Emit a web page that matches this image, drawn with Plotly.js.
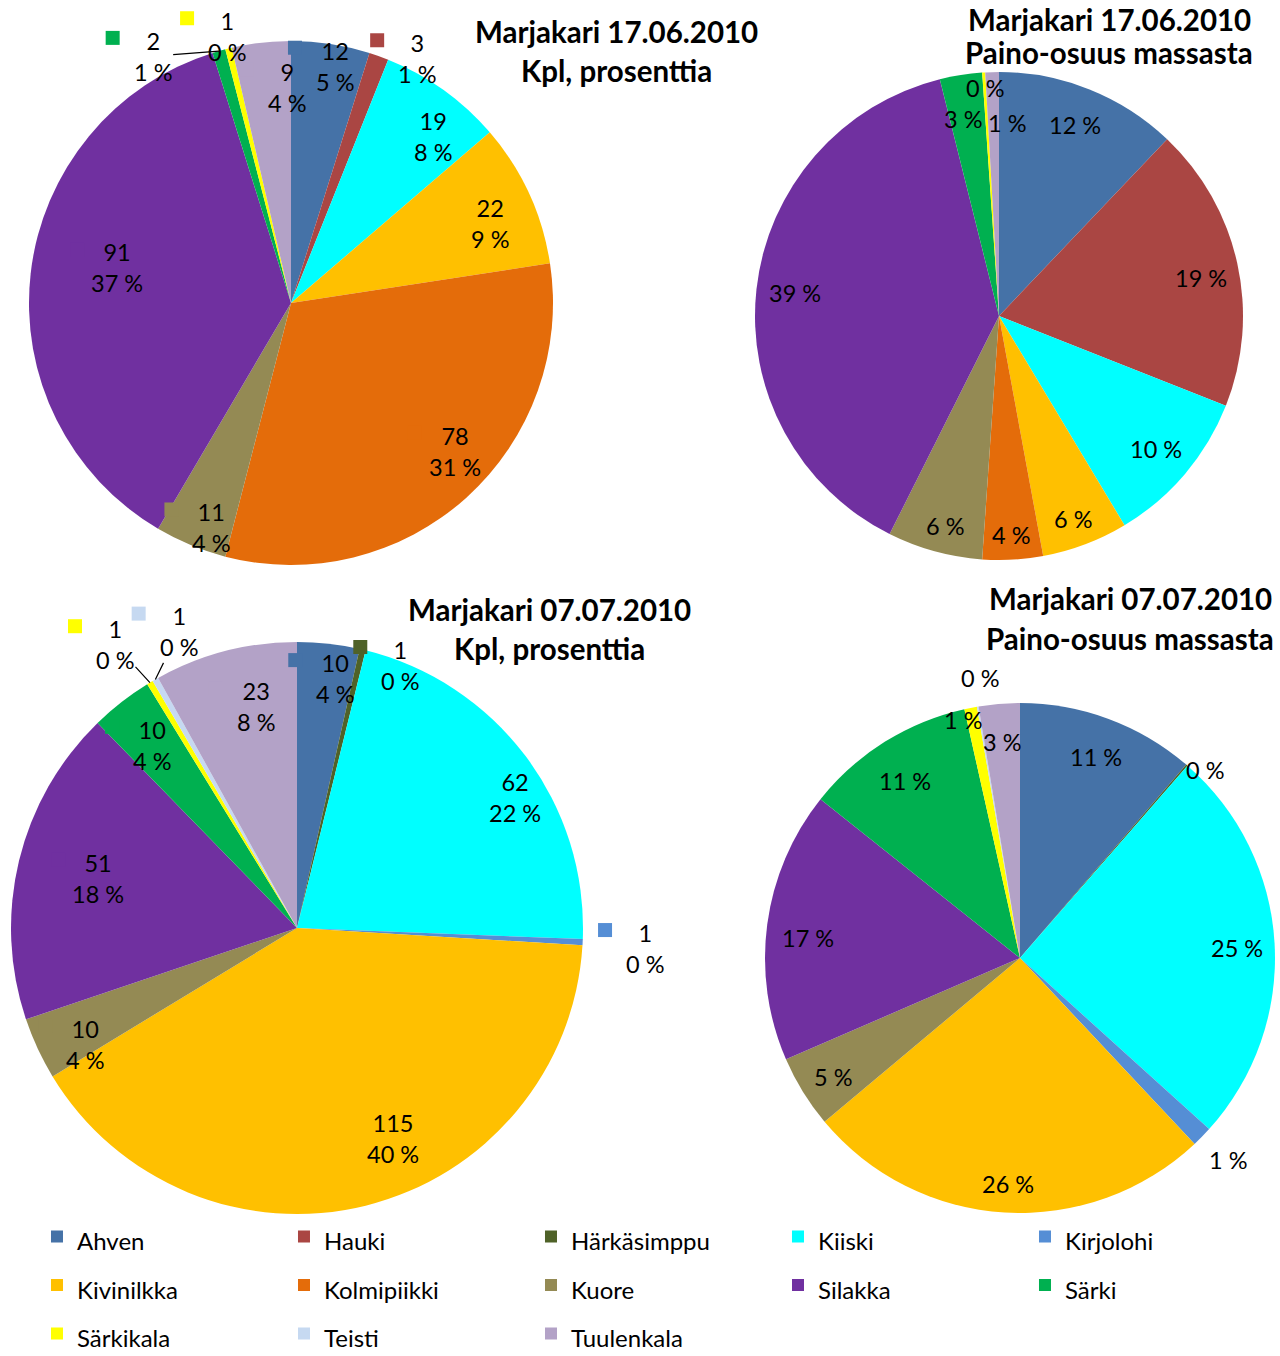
<!DOCTYPE html>
<html>
<head>
<meta charset="utf-8">
<script src="https://cdn.plot.ly/plotly-3.0.1.min.js"></script>
<style>
  html, body { margin: 0; padding: 0; background: #ffffff; }
  #chart { width: 1280px; height: 1356px; }
</style>
</head>
<body>
<div id="chart"></div>
<script>
// Species in legend order and their slice colours
const species = ['Ahven', 'Hauki', 'Härkäsimppu', 'Kiiski', 'Kirjolohi', 'Kivinilkka',
  'Kolmipiikki', 'Kuore', 'Silakka', 'Särki', 'Särkikala', 'Teisti', 'Tuulenkala'];
const speciesColors = ['#4572A7', '#AA4643', '#4F6228', '#00FFFF', '#558ED5', '#FFC000',
  '#E46C0A', '#948A54', '#7030A0', '#00B050', '#FFFF00', '#C6D9F1', '#B3A2C7'];

// Catch in individuals (kpl)
const countsJune = [12, 3, 0, 19, 0, 22, 78, 11, 91, 2, 1, 0, 9];
const countsJuly = [10, 0, 1, 62, 1, 115, 0, 10, 51, 10, 1, 1, 23];

// Share of the total catch mass (%)
const massJune = [12.1, 18.9, 0, 10.4, 0, 5.7, 4.0, 6.3, 38.7, 2.8, 0.2, 0, 0.9];
const massJuly = [11.3, 0, 0.1, 25.3, 1.3, 25.9, 0, 4.6, 17.2, 10.8, 0.8, 0.1, 2.6];

// Chart headings
const headingDates = ['Marjakari 17.06.2010', 'Marjakari 17.06.2010', 'Marjakari 07.07.2010', 'Marjakari 07.07.2010'];
const headingKinds = ['Kpl, prosenttia', 'Paino-osuus massasta', 'Kpl, prosenttia', 'Paino-osuus massasta'];

// ---------------------------------------------------------------------------
// Layout and styling
const W = 1280, H = 1356;
const FONT = 'Lato, "Open Sans", sans-serif';
const LABEL_SIZE = 23.5;
const LINE_GAP = LABEL_SIZE * 1.3;

// Pie frames in pixels (centre and radius); heading x and the y of its two lines
const frames = [
  { cx: 291, cy: 303, r: 262, head: [616, 31, 70] },
  { cx: 999, cy: 316, r: 244, head: [1109, 20, 53] },
  { cx: 297, cy: 928, r: 286, head: [549, 609, 648] },
  { cx: 1020, cy: 958, r: 255, head: [1130, 599, 638] }
];

// Data-label placement: radius fraction and angle shift (deg) from the slice middle
const labelSpots = [
  { _default: [0.82, 0], Ahven: [0.92, 1.8], Hauki: [1.05, 7.7], Kiiski: [0.834, 4.9],
    Kivinilkka: [0.817, 3], Kolmipiikki: [0.843, -5.8], Kuore: [0.91, -3], Silakka: [0.677, 4.9],
    'Särki': [1.08, -13.3], 'Särkikala': [1.046, 0.3], Tuulenkala: [0.823, 5.4] },
  { _default: [0.843, 0], Hauki: [0.842, 1.7], Kivinilkka: [0.885, 0.7], Kolmipiikki: [0.9, 0.2],
    Kuore: [0.889, -0.9], 'Särki': [0.82, -1.5], 'Särkikala': [0.935, 0.2], Tuulenkala: [0.79, 4] },
  { _default: [0.82, 0], Ahven: [0.883, 2.4], 'Härkäsimppu': [0.987, 8.2], Kiiski: [0.889, 6],
    Kirjolohi: [1.219, 0.5], Kivinilkka: [0.81, -10.6], Kuore: [0.845, -3.8], Silakka: [0.717, 0.5],
    'Särki': [0.816, -0.5], 'Särkikala': [1.178, -1.75], Teisti: [1.115, 7.9], Tuulenkala: [0.786, 4] },
  { _default: [0.845, 0], Ahven: [0.843, 0.4], 'Härkäsimppu': [1.034, 3.6], Kiiski: [0.852, 0.8],
    Kirjolohi: [1.137, -0.3], Kivinilkka: [0.887, -0.4], Kuore: [0.869, -0.8], Silakka: [0.835, -2.2],
    'Särki': [0.828, -1], 'Särkikala': [0.96, -2.3], Teisti: [1.109, 1.4], Tuulenkala: [0.85, -0.1] }
];
// Labels joined to their slice with a leader line
const leaderLabels = [['Särki'], [], ['Särkikala', 'Teisti'], []];

// Legend entries keep the species name; the smaller span keeps the row pitch roomy
const legendNames = species.map(s => '<span style="font-size:24px">' + s + '</span>');

const charts = [
  { values: countsJune, isCount: true },
  { values: massJune, isCount: false },
  { values: countsJuly, isCount: true },
  { values: massJuly, isCount: false }
];

const data = [];
const annotations = [];
const shapes = [];

charts.forEach((c, p) => {
  const f = frames[p];
  data.push({
    type: 'pie',
    labels: legendNames,
    values: c.values,
    textinfo: 'none',
    marker: { colors: speciesColors, line: { width: 0 } },
    sort: false,
    direction: 'clockwise',
    rotation: 0,
    domain: {
      x: [(f.cx - f.r) / W, (f.cx + f.r) / W],
      y: [1 - (f.cy + f.r) / H, 1 - (f.cy - f.r) / H]
    },
    hoverinfo: 'skip'
  });

  // Data labels follow each slice's middle angle
  const total = c.values.reduce((a, b) => a + b, 0);
  let cum = 0;
  c.values.forEach((v, i) => {
    const start = cum;
    cum += v;
    if (v === 0) return;
    const name = species[i];
    const mid = 360 * (start + v / 2) / total;
    const spot = labelSpots[p][name] || labelSpots[p]._default;
    const ang = (mid + spot[1]) * Math.PI / 180;
    const lx = f.cx + spot[0] * f.r * Math.sin(ang);
    const ly = f.cy - spot[0] * f.r * Math.cos(ang);
    const pct = Math.round(v / total * 100);
    const text = c.isCount ? v + '<br>' + pct + ' %' : Math.round(v) + ' %';
    const ann = {
      text: text,
      xref: 'paper', yref: 'paper',
      xanchor: 'center', yanchor: 'middle', align: 'center',
      font: { family: FONT, size: LABEL_SIZE, color: '#000000' },
      showarrow: false
    };
    if (leaderLabels[p].includes(name)) {
      const midRad = mid * Math.PI / 180;
      const tx = f.cx + f.r * Math.sin(midRad);
      const ty = f.cy - f.r * Math.cos(midRad);
      Object.assign(ann, {
        x: tx / W, y: 1 - ty / H,
        showarrow: true, arrowhead: 0, arrowwidth: 1.2, arrowcolor: '#000000',
        ax: lx - tx, ay: ly - ty, standoff: 0
      });
    } else {
      Object.assign(ann, { x: lx / W, y: 1 - ly / H });
    }
    annotations.push(ann);

    // Count labels carry a small legend key beside the number
    if (c.isCount) {
      const kx = lx - 40, ky = ly - LINE_GAP / 2 - 3, half = 7;
      shapes.push({
        type: 'rect', xref: 'paper', yref: 'paper', layer: 'above',
        x0: (kx - half) / W, x1: (kx + half) / W,
        y0: 1 - (ky + half) / H, y1: 1 - (ky - half) / H,
        fillcolor: speciesColors[i], line: { width: 0 }
      });
    }
  });

  // Two-line heading, one annotation per line
  [headingDates[p], headingKinds[p]].forEach((line, k) => {
    annotations.push({
      text: '<b>' + line + '</b>',
      xref: 'paper', yref: 'paper',
      x: f.head[0] / W, y: 1 - f.head[1 + k] / H,
      xanchor: 'center', yanchor: 'middle', align: 'center',
      showarrow: false,
      font: { family: FONT, size: 29.5, color: '#000000' }
    });
  });
});

const layout = {
  width: W,
  height: H,
  margin: { l: 0, r: 0, t: 0, b: 0, autoexpand: false },
  paper_bgcolor: '#ffffff',
  font: { family: FONT, color: '#000000' },
  showlegend: true,
  legend: {
    orientation: 'h',
    x: 0.0289, xanchor: 'left',
    y: 0.1097, yanchor: 'top',
    bgcolor: 'rgba(0,0,0,0)',
    entrywidth: 202, entrywidthmode: 'pixels',
    font: { family: FONT, size: 35, color: '#000000' },
    traceorder: 'normal'
  },
  annotations: annotations,
  shapes: shapes
};

Plotly.newPlot('chart', data, layout, { displayModeBar: false, staticPlot: true });
</script>
</body>
</html>
